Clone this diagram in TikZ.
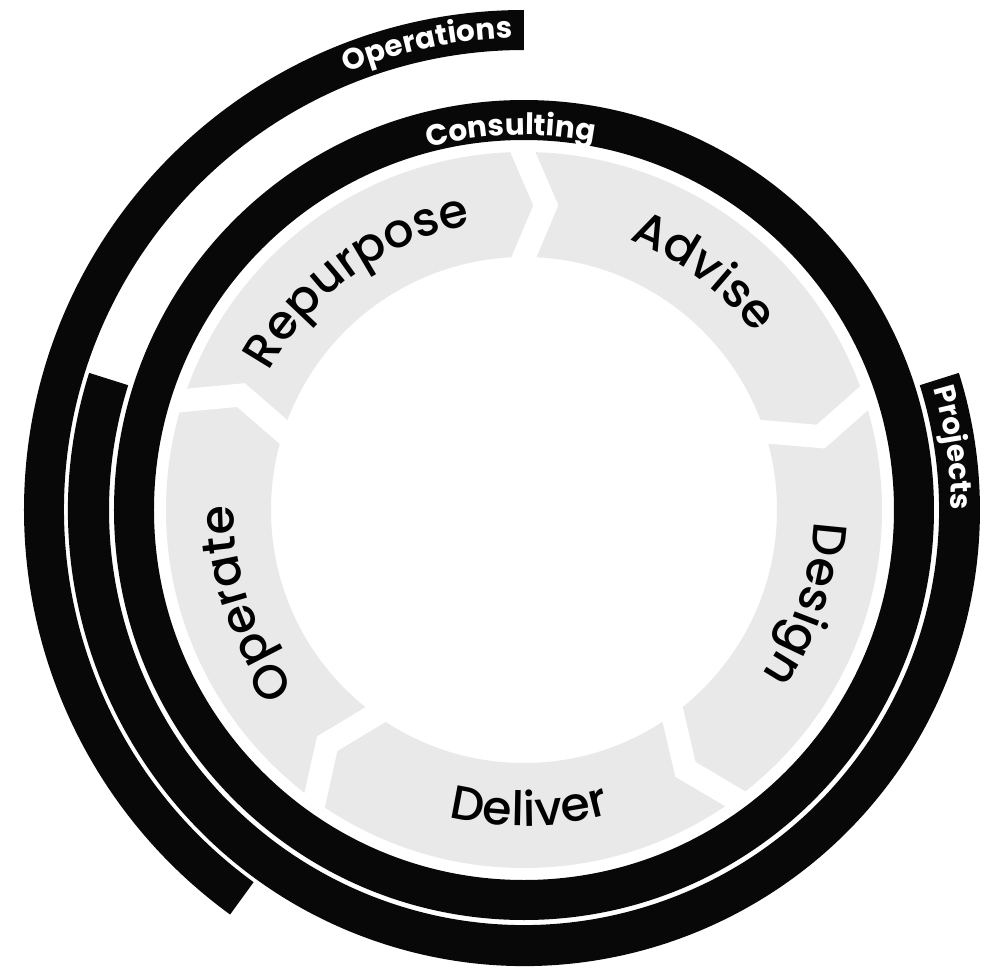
\documentclass[tikz,border=0pt]{standalone}
\usepackage{fontspec}
\setmainfont{Poppins}
\newfontfamily\stepfamily{Poppins Medium}
\usepackage{tikz}
\usetikzlibrary{calc,decorations.text}
\definecolor{ringblack}{RGB}{8,8,8}
\definecolor{stepgrey}{RGB}{233,233,233}
\tikzstyle{band}=[fill=ringblack]
\tikzstyle{stepring}=[fill=stepgrey,even odd rule]
\tikzstyle{gapline}=[draw=white,line width=0.23cm,line join=miter]
\tikzstyle{arclabel}=[decorate,decoration={text along path,text align=center}]
\newcommand\bandfont{\fontsize{8.4}{10}\bfseries\color{white}}
\newcommand\stepfont{\stepfamily\fontsize{13.5}{16}\selectfont\color{black}}
\newcommand\gapangle{4.7}
% sector of a ring: inner radius, outer radius, from, to
\newcommand\ringsector[4]{\fill[band] (#3:#2) arc[start angle=#3,end angle=#4,radius=#2]
    -- (#4:#1) arc[start angle=#4,end angle=#3,radius=#1] -- cycle;}
% text on an arc: radius, from, to, text
\newcommand\arctext[4]{\path[arclabel,decoration={text={#4}}] (#2:#1)
    arc[start angle=#2,end angle=#3,radius=#1];}
\newcommand\stepgap[1]{\draw[gapline] (#1:3.64) -- ({#1-\gapangle}:3.055) -- (#1:2.47);}

\begin{document}
\begin{tikzpicture}
    \useasboundingbox (-5.24,-4.59) rectangle (4.68,5.10);
    % outer bands
    \ringsector{4.60}{5.00}{90}{234}
    \ringsector{4.15}{4.56}{162.5}{377.5}
    \fill[band,even odd rule] (0,0) circle[radius=4.10] (0,0) circle[radius=3.70];
    % grey steps
    \fill[stepring] (0,0) circle[radius=3.58] (0,0) circle[radius=2.53];
    \stepgap{90.6}
    \stepgap{18.6}
    \stepgap{-53.4}
    \stepgap{-125.4}
    \stepgap{-197.4}
    % band labels
    \arctext{4.72}{141.7}{61.7}{|\bandfont|Operations}
    \arctext{3.75}{132}{52}{|\bandfont|Consulting}
    \arctext{4.27}{48.3}{-31.7}{|\bandfont|Projects}
    % step labels
    \arctext{2.90}{166}{86}{|\stepfont|Repurpose}
    \arctext{2.90}{93}{13}{|\stepfont|Advise}
    \arctext{2.90}{21.5}{-58.5}{|\stepfont|Design}
    \arctext{3.16}{-129}{-49}{|\stepfont|Deliver}
    \arctext{2.90}{238.5}{158.5}{|\stepfont|Operate}
\end{tikzpicture}
\end{document}
